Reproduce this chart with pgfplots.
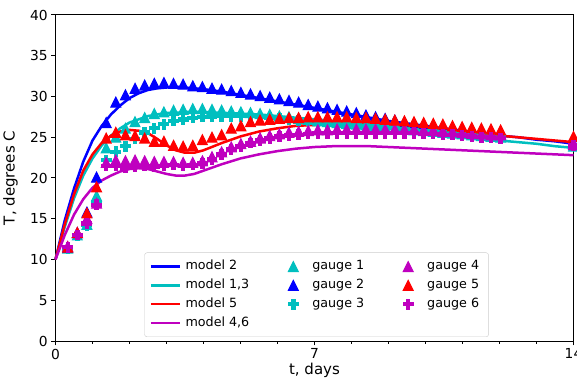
\documentclass[border=0pt]{standalone}
\usepackage{pgfplots}
\pgfplotsset{compat=1.18}
\usepackage{pgfplotstable}
\usepackage{fontspec}
\setmainfont{DejaVu Sans}

\definecolor{mplb}{rgb}{0,0,1}
\definecolor{mplc}{rgb}{0,0.75,0.75}
\definecolor{mplr}{rgb}{1,0,0}
\definecolor{mplm}{rgb}{0.75,0,0.75}

% filled upward triangle, as wide as it is tall
\pgfdeclareplotmark{mtri}{%
  \pgfpathmoveto{\pgfpoint{0pt}{\pgfplotmarksize}}%
  \pgfpathlineto{\pgfpoint{-\pgfplotmarksize}{-\pgfplotmarksize}}%
  \pgfpathlineto{\pgfpoint{\pgfplotmarksize}{-\pgfplotmarksize}}%
  \pgfpathclose\pgfusepathqfillstroke}
% filled thick plus
\pgfdeclareplotmark{mplus}{%
  \pgfmathsetmacro{\mpa}{\pgfplotmarksize/3}%
  \pgfpathmoveto{\pgfpoint{-\mpa pt}{-\pgfplotmarksize}}%
  \pgfpathlineto{\pgfpoint{\mpa pt}{-\pgfplotmarksize}}%
  \pgfpathlineto{\pgfpoint{\mpa pt}{-\mpa pt}}%
  \pgfpathlineto{\pgfpoint{\pgfplotmarksize}{-\mpa pt}}%
  \pgfpathlineto{\pgfpoint{\pgfplotmarksize}{\mpa pt}}%
  \pgfpathlineto{\pgfpoint{\mpa pt}{\mpa pt}}%
  \pgfpathlineto{\pgfpoint{\mpa pt}{\pgfplotmarksize}}%
  \pgfpathlineto{\pgfpoint{-\mpa pt}{\pgfplotmarksize}}%
  \pgfpathlineto{\pgfpoint{-\mpa pt}{\mpa pt}}%
  \pgfpathlineto{\pgfpoint{-\pgfplotmarksize}{\mpa pt}}%
  \pgfpathlineto{\pgfpoint{-\pgfplotmarksize}{-\mpa pt}}%
  \pgfpathlineto{\pgfpoint{-\mpa pt}{-\mpa pt}}%
  \pgfpathclose\pgfusepathqfillstroke}

\pgfplotsset{
  % every legend sample takes the same 29bp slot; marks sit in its middle
  legend image code/.code={%
    \path[draw=none, fill=none] (0bp,-5bp) rectangle (29bp,5bp);
    \draw[mark repeat=2,mark phase=2,#1]
      plot coordinates {(0bp,0bp) (14.5bp,0bp) (29bp,0bp)};},
  model/.style={line width=2.5bp, no marks},
  gauge/.style={only marks, mark size=4.9bp, line width=1.1bp},
}

\newcommand{\labelfont}{\fontsize{15bp}{18bp}\selectfont}
\newcommand{\tickfont}{\fontsize{13.8bp}{16bp}\selectfont}
\newcommand{\legendfont}{\fontsize{12.7bp}{15bp}\selectfont}

% measured temperatures
\pgfplotstableread{
t     g1   g2   g3   g4   g5   g6
0.33  11.4 11.5 11.3 11.6 11.5 11.5
0.59  13.0 13.3 12.9 13.3 13.3 13.0
0.85  14.3 15.8 14.2 15.0 15.7 14.4
1.11  17.8 20.1 17.0 16.9 18.9 16.7
1.37  23.7 26.8 22.2 21.9 24.9 21.5
1.63  25.0 29.3 23.2 22.2 25.6 21.5
1.89  26.1 30.2 23.9 22.1 25.3 21.3
2.15  26.9 31.0 24.8 22.2 25.2 21.4
2.41  27.4 31.4 25.6 22.1 24.9 21.5
2.67  27.9 31.6 26.1 22.0 24.5 21.4
2.93  28.1 31.7 26.6 22.0 24.5 21.5
3.19  28.3 31.6 27.0 22.0 24.0 21.6
3.45  28.4 31.5 27.2 21.9 23.9 21.5
3.71  28.5 31.3 27.4 21.9 24.0 21.6
3.97  28.5 31.2 27.5 22.1 24.7 21.8
4.23  28.4 31.0 27.5 22.6 25.0 22.3
4.49  28.3 30.9 27.6 23.2 25.3 22.9
4.75  28.2 30.7 27.6 23.8 26.1 23.5
5.01  28.1 30.5 27.6 24.2 26.4 23.9
5.27  28.0 30.3 27.6 24.5 26.9 24.3
5.53  27.9 30.1 27.5 24.9 27.1 24.6
5.79  27.8 29.9 27.4 25.2 27.2 24.9
6.05  27.6 29.7 27.3 25.4 27.3 25.1
6.31  27.5 29.5 27.2 25.6 27.4 25.2
6.57  27.3 29.3 27.1 25.7 27.4 25.3
6.83  27.2 29.0 27.0 25.8 27.5 25.4
7.09  27.0 28.8 26.9 25.9 27.5 25.5
7.35  26.9 28.6 26.8 25.9 27.5 25.5
7.61  26.8 28.4 26.7 26.0 27.5 25.5
7.87  26.7 28.2 26.6 26.0 27.5 25.5
8.13  26.6 28.0 26.5 26.0 27.4 25.5
8.39  26.5 27.7 26.4 26.0 27.4 25.5
8.65  26.4 27.5 26.3 26.0 27.3 25.5
8.91  26.2 27.3 26.2 26.0 27.2 25.5
9.17  26.1 27.1 26.1 26.0 27.1 25.5
9.43  26.0 26.9 26.0 26.0 27.0 25.5
9.69  25.9 26.7 25.9 26.0 26.9 25.5
9.95  25.8 26.4 25.8 25.9 26.8 25.4
10.21 25.7 26.3 25.7 25.9 26.7 25.4
10.47 25.6 26.1 25.6 25.8 26.6 25.3
10.73 25.5 26.0 25.5 25.7 26.4 25.3
10.99 25.4 25.8 25.4 25.6 26.3 25.2
11.25 25.3 25.7 25.3 25.5 26.2 25.1
11.51 25.2 25.6 25.2 25.4 26.1 25.0
11.77 25.1 25.5 25.1 25.3 26.0 25.0
12.03 25.0 25.4 25.0 25.3 25.9 24.9
14.00 23.9 24.3 24.0 24.1 25.1 24.0
}\gauges

% modelled temperatures
\pgfplotstableread{
t     m2   m13  m5   m46
0.00  10.0 10.0 10.0 10.0
0.25  14.8 14.0 14.3 13.0
0.50  18.7 17.5 18.0 15.5
0.75  22.0 20.3 20.9 17.4
1.00  24.6 22.4 22.9 18.8
1.25  26.4 24.0 24.3 19.7
1.50  27.8 25.2 25.2 20.3
1.75  28.9 26.1 25.7 20.8
2.00  29.8 26.8 25.9 21.1
2.25  30.4 27.2 25.8 21.2
2.50  30.8 27.6 25.5 21.1
2.75  31.0 27.8 24.8 20.8
3.00  31.1 28.0 24.0 20.5
3.25  31.2 28.0 23.4 20.3
3.50  31.1 28.1 23.1 20.3
3.75  31.0 28.1 23.1 20.5
4.00  30.9 28.1 23.4 20.9
4.50  30.6 28.0 24.3 21.7
5.00  30.2 27.9 25.1 22.4
5.50  29.8 27.8 25.7 22.9
6.00  29.4 27.6 26.1 23.3
6.50  29.0 27.4 26.4 23.6
7.00  28.6 27.2 26.5 23.8
7.50  28.2 27.0 26.6 23.9
8.00  27.8 26.8 26.6 23.9
8.50  27.4 26.6 26.5 23.9
9.00  27.0 26.3 26.3 23.8
9.50  26.7 26.0 26.1 23.7
10.00 26.4 25.7 25.9 23.6
10.50 26.1 25.4 25.7 23.5
11.00 25.8 25.1 25.5 23.4
11.50 25.5 24.9 25.3 23.3
12.00 25.2 24.6 25.2 23.2
12.50 25.0 24.4 25.0 23.1
13.00 24.7 24.2 24.8 23.0
13.50 24.5 23.9 24.6 22.9
14.00 24.2 23.7 24.4 22.8
}\models

\begin{document}
\begin{tikzpicture}
\begin{axis}[
  at={(0,0)}, anchor=south west,
  scale only axis, width=518bp, height=326bp,
  xmin=0, xmax=14, ymin=0, ymax=40,
  xtick={0,7,14}, minor xtick={1,2,3,4,5,6,8,9,10,11,12,13},
  ytick={0,5,...,40},
  tick align=outside, tick pos=left,
  major tick length=4.4bp, minor tick length=2.5bp,
  every tick/.style={black, line width=1bp},
  axis line style={black, line width=1bp},
  /pgf/number format/assume math mode=true,
  tick label style={font=\tickfont},
  xlabel={t, days}, ylabel={T, degrees C},
  every axis x label/.style={at={(axis description cs:0.5,-0.104)}, anchor=base, font=\labelfont},
  every axis y label/.style={at={(axis description cs:-0.079,0.5)}, rotate=90, anchor=base, font=\labelfont},
  clip=false,
  legend columns=3,
  legend cell align=left,
  legend style={at={(0.504,0.0123)}, anchor=south, font=\legendfont,
    draw=black!20, rounded corners=2.5bp, fill=white,
    inner xsep=5bp, inner ysep=8bp, row sep=6.7bp,
    nodes={inner xsep=4.5bp, inner ysep=0bp, text height=9.3bp, text depth=2.7bp},
    /tikz/every even column/.append style={column sep=25bp}},
]
\addplot[model, mplb, forget plot] table[x=t, y=m2] {\models};
\addplot[model, mplc, forget plot] table[x=t, y=m13] {\models};
\addplot[model, mplr, forget plot] table[x=t, y=m5] {\models};
\addplot[model, mplm, forget plot] table[x=t, y=m46] {\models};

\addplot[gauge, mark=mtri, mplc, forget plot] table[x=t, y=g1] {\gauges};
\addplot[gauge, mark=mtri, mplb, forget plot] table[x=t, y=g2] {\gauges};
\addplot[gauge, mark=mplus, mplc, forget plot] table[x=t, y=g3] {\gauges};
\addplot[gauge, mark=mtri, mplm, forget plot] table[x=t, y=g4] {\gauges};
\addplot[gauge, mark=mtri, mplr, forget plot] table[x=t, y=g5] {\gauges};
\addplot[gauge, mark=mplus, mplm, forget plot] table[x=t, y=g6] {\gauges};

% legend, filled row by row so that the columns read model / gauge 1-3 / gauge 4-6
\addlegendimage{model, mplb}\addlegendentry{model 2}
\addlegendimage{gauge, mark=mtri, mplc}\addlegendentry{gauge 1}
\addlegendimage{gauge, mark=mtri, mplm}\addlegendentry{gauge 4}
\addlegendimage{model, mplc}\addlegendentry{model 1,3}
\addlegendimage{gauge, mark=mtri, mplb}\addlegendentry{gauge 2}
\addlegendimage{gauge, mark=mtri, mplr}\addlegendentry{gauge 5}
\addlegendimage{model, mplr}\addlegendentry{model 5}
\addlegendimage{gauge, mark=mplus, mplc}\addlegendentry{gauge 3}
\addlegendimage{gauge, mark=mplus, mplm}\addlegendentry{gauge 6}
\addlegendimage{model, mplm}\addlegendentry{model 4,6}
\end{axis}
\pgfresetboundingbox
\useasboundingbox (-55.5bp,-42bp) rectangle (521.5bp,341bp);
\end{tikzpicture}
\end{document}
